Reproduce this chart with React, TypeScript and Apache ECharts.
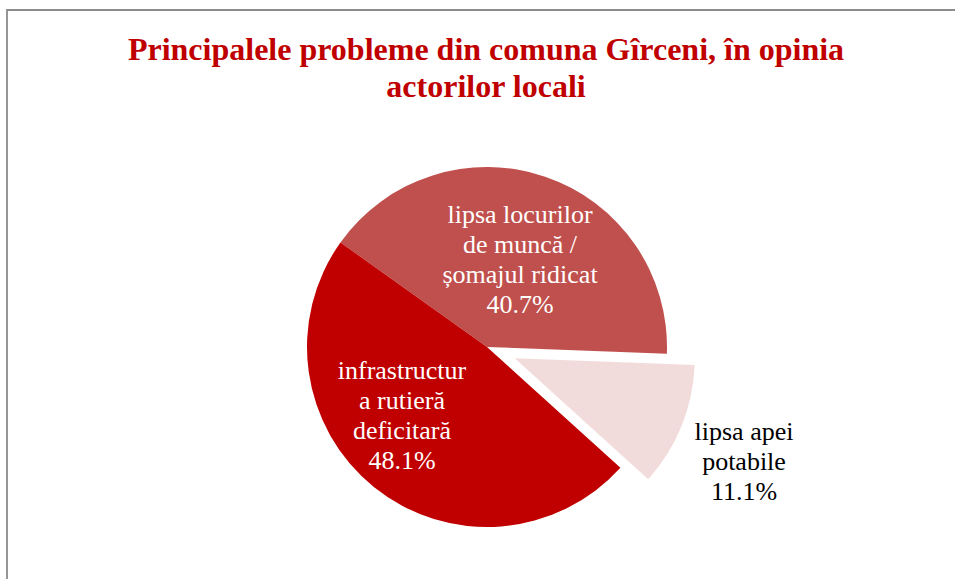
import React, { useEffect, useRef } from "react";
import * as echarts from "echarts";

const titleText = "Principalele probleme din comuna Gîrceni, în opinia\nactorilor locali";
const categories = [
  "lipsa locurilor de muncă / șomajul ridicat",
  "lipsa apei potabile",
  "infrastructura rutieră deficitară",
];
const labelTexts = [
  "lipsa locurilor\nde muncă /\nșomajul ridicat",
  "lipsa apei\npotabile",
  "infrastructur\na rutieră\ndeficitară",
];
const values = [40.7, 11.1, 48.1];
const colors = ["#C0504D", "#F2DCDB", "#C00000"];
const labelColors = ["#FFFFFF", "#000000", "#FFFFFF"];
const exploded = [false, true, false];

const labelPos: [number, number][] = [
  [520, 259],
  [744, 461],
  [402, 415],
];

const SERIF = '"Liberation Serif", "Times New Roman", serif';
const CENTER: [number, number] = [487, 347];
const EXPLODE = 30;
const START = 144.5;

function explodedCenter(): [number, number] {
  const total = values.reduce((a, b) => a + b, 0);
  let acc = 0;
  const idx = exploded.indexOf(true);
  for (let i = 0; i < idx; i++) acc += values[i];
  const mid = START - ((acc + values[idx] / 2) / total) * 360;
  const rad = (mid * Math.PI) / 180;
  return [CENTER[0] + EXPLODE * Math.cos(rad), CENTER[1] - EXPLODE * Math.sin(rad)];
}

export default function App() {
  const ref = useRef<HTMLDivElement>(null);
  useEffect(() => {
    if (!ref.current) return;
    const chart = echarts.init(ref.current, undefined, { renderer: "svg" });
    const makeSeries = (isExplodedLayer: boolean) => ({
      type: "pie",
      center: isExplodedLayer ? explodedCenter() : CENTER,
      radius: 180,
      startAngle: START,
      clockwise: true,
      silent: true,
      z: isExplodedLayer ? 3 : 2,
      emphasis: { disabled: true, scale: false },
      labelLine: { show: false },
      itemStyle: { borderWidth: 0 },
      label: {
        show: true,
        position: "inside",
        fontFamily: SERIF,
        fontSize: 26,
        lineHeight: 30,
        align: "center",
        verticalAlign: "middle",
      },
      labelLayout: (params: any) => {
        const p = labelPos[params.dataIndex];
        return { x: p[0], y: p[1], align: "center", verticalAlign: "middle" };
      },
      data: values.map((v, i) => {
        const visible = exploded[i] === isExplodedLayer;
        return {
          name: categories[i],
          value: v,
          itemStyle: { color: visible ? colors[i] : "rgba(0,0,0,0)" },
          label: {
            show: visible,
            fontFamily: SERIF,
            fontSize: 26,
            lineHeight: 30,
            color: labelColors[i],
            formatter: `${labelTexts[i]}\n${v.toFixed(1)}%`,
          },
        };
      }),
    });
    chart.setOption({
      animation: false,
      backgroundColor: "#FFFFFF",
      graphic: [
        {
          type: "rect",
          silent: true,
          shape: { x: 7, y: 10, width: 1000, height: 700 },
          style: { fill: "none", stroke: "#8C8C8C", lineWidth: 1.8 },
        },
        {
          type: "text",
          silent: true,
          x: 486,
          y: 30,
          style: {
            text: titleText,
            font: `bold 32px "Liberation Serif", serif`,
            fill: "#C00000",
            textAlign: "center",
            textVerticalAlign: "top",
            lineHeight: 37,
          },
        },
      ],
      series: [makeSeries(false), makeSeries(true)],
    });
    return () => chart.dispose();
  }, []);
  return (
    <div
      ref={ref}
      style={{ position: "absolute", left: 0, top: 0, width: 955, height: 579 }}
    />
  );
}
